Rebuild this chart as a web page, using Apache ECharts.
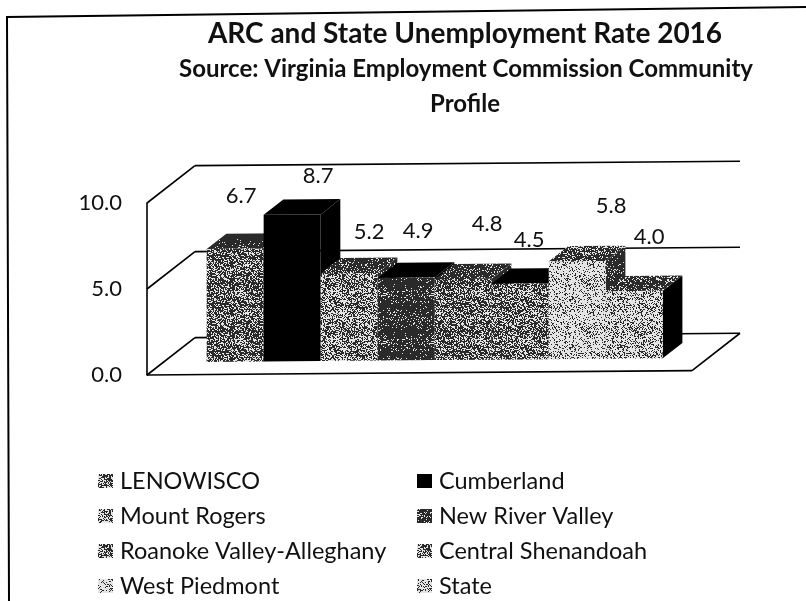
<!DOCTYPE html>
<html><head><meta charset="utf-8">
<style>html,body{margin:0;padding:0;background:#fff}#c{width:806px;height:601px}</style>
<script src="https://cdn.jsdelivr.net/npm/echarts@6/dist/echarts.min.js"></script>
</head><body><div id="c"></div>
<script>
const regions = ["LENOWISCO","Cumberland","Mount Rogers","New River Valley","Roanoke Valley-Alleghany","Central Shenandoah","West Piedmont","State"];
const rates = [6.7,8.7,5.2,4.9,4.8,4.5,5.8,4.0];
const yTicks = [0,5,10];

// styling only: grey levels (0 black .. 1 white) of front, top and side faces
const frontTone = [0.38,0.0,0.52,0.12,0.4,0.44,0.78,0.68];
const topTone   = [0.03,0.0,0.16,0.0,0.14,0.0,0.3,0.26];
const sideTone  = [0.02,0.0,0.08,0.0,0.04,0.0,0.1,0.0];
const labelShift = [[6,-53],[26,-39],[20,-41],[12,-47],[24,-55],[9,-44],[34,-55],[15,-54]];

// fixed speckled halftone tile, imitating the photocopied bar fills
const cache = {};
function tone(level){
  if(level<=0) return '#000';
  if(cache[level]) return cache[level];
  const N=48, cv=document.createElement('canvas');cv.width=cv.height=N;
  const g=cv.getContext('2d');g.fillStyle='#e4e4e4';g.fillRect(0,0,N,N);g.fillStyle='#2a2a2a';
  for(let y=0;y<N;y++)for(let x=0;x<N;x++){
    const s=Math.sin(x*12.9898+y*78.233)*43758.5453, th=s-Math.floor(s);
    const band=level+0.06*Math.sin(y/N*Math.PI*4);
    if(th>band) g.fillRect(x,y,1,1);
  }
  return cache[level]={image:cv,repeat:'repeat'};
}

const GRID={left:147,top:203,width:545,height:172};
const WALL={dx:48,dy:-37};     // full floor depth in pixels
const BAR={front:0.34,back:0.75,scale:0.98}; // bar depth as share of the floor depth
const SKEW=-0.008;             // tilt of the scanned page
const FONT='Lato';

function proj(api,x,v,depth){
  const p=api.coord([x,v]);
  const px=p[0]+WALL.dx*depth, py=p[1]+WALL.dy*depth;
  return [px,py+(px-GRID.left)*SKEW];
}
const XMIN=-0.76,XMAX=8.8;

function wallItem(params,api){
  const ch=[];
  const line=(a,b)=>ch.push({type:'line',shape:{x1:a[0],y1:a[1],x2:b[0],y2:b[1]},style:{stroke:'#000',lineWidth:1.6}});
  yTicks.forEach(t=>{
    line(proj(api,XMIN,t,0),proj(api,XMIN,t,1));
    line(proj(api,XMIN,t,1),proj(api,XMAX,t,1));
  });
  line(proj(api,XMIN,0,0),proj(api,XMAX,0,0));
  line(proj(api,XMAX,0,0),proj(api,XMAX,0,1));
  return {type:'group',children:ch};
}
function barItem(i){
  return function(params,api){
    const x=api.value(0),v=api.value(1)*BAR.scale;
    const f=BAR.front,b=BAR.back;
    const A=proj(api,x,0,f),B=proj(api,x+1,0,f),C=proj(api,x+1,v,f),D=proj(api,x,v,f);
    const E=proj(api,x+1,0,b),F=proj(api,x+1,v,b),G=proj(api,x,v,b);
    const poly=(pts,t)=>({type:'polygon',shape:{points:pts},style:{fill:tone(t)}});
    return {type:'group',children:[
      poly([B,E,F,C],sideTone[i]),
      poly([D,C,F,G],topTone[i]),
      poly([A,B,C,D],frontTone[i])
    ]};
  };
}
function labelItem(params,api){
  const x=api.value(0),v=api.value(1);
  const p=proj(api,x+0.5,v*BAR.scale,BAR.front);
  const s=labelShift[params.dataIndex];
  return {type:'text',style:{x:p[0]+s[0],y:p[1]+s[1],text:v.toFixed(1),font:'22px '+FONT,fill:'#111',textAlign:'center',textVerticalAlign:'middle'}};
}
function legendColumn(names,left,top){
  return {show:true,orient:'vertical',left:left,top:top,padding:0,itemWidth:15,itemHeight:14,itemGap:11,selectedMode:false,icon:'rect',
    textStyle:{fontFamily:FONT,fontSize:23.5,color:'#111',padding:[0,0,0,2]},
    data:names.map(n=>({name:n,icon:'rect',itemStyle:{color:tone(frontTone[regions.indexOf(n)]),borderWidth:0}}))};
}
const series=[
  {type:'custom',name:'_wall',silent:true,animation:false,renderItem:wallItem,data:[[0,0]],z:1}
];
regions.forEach((n,i)=>series.push({type:'custom',name:n,silent:true,animation:false,renderItem:barItem(i),
  data:[[i,rates[i]]],z:2,itemStyle:{color:'#666'}}));
series.push({type:'custom',name:'_labels',silent:true,animation:false,renderItem:labelItem,
  data:rates.map((v,i)=>[i,v]),z:3});

const chart=echarts.init(document.getElementById('c'),null,{renderer:'canvas'});
chart.setOption({
  animation:false,backgroundColor:'#fff',
  title:[
    {text:'ARC and State Unemployment Rate 2016',left:460,top:15,textAlign:'center',
     textStyle:{fontFamily:FONT,fontWeight:'bold',fontSize:28,color:'#111'}},
    {text:'Source: Virginia Employment Commission Community',left:461,top:52,textAlign:'center',
     textStyle:{fontFamily:FONT,fontWeight:'bold',fontSize:24,color:'#111'}},
    {text:'Profile',left:460,top:87,textAlign:'center',
     textStyle:{fontFamily:FONT,fontWeight:'bold',fontSize:24,color:'#111'}}
  ],
  grid:{left:GRID.left,top:GRID.top,width:GRID.width,height:GRID.height},
  xAxis:{type:'value',min:XMIN,max:XMAX,show:false},
  yAxis:{type:'value',min:0,max:10,interval:5,position:'left',
    axisLine:{show:true,onZero:false,lineStyle:{color:'#000',width:1.6}},axisTick:{show:false},splitLine:{show:false},
    axisLabel:{margin:25,fontFamily:FONT,fontSize:22,color:'#111',formatter:v=>v.toFixed(1)}},
  legend:[
    legendColumn([regions[0],regions[2],regions[4],regions[6]],98,469),
    legendColumn([regions[1],regions[3],regions[5],regions[7]],417,469)
  ],
  graphic:[
    {type:'polyline',silent:true,shape:{points:[[9,601],[7,17],[806,7]]},style:{stroke:'#000',lineWidth:2,fill:null}}
  ],
  series:series
});
</script></body></html>
